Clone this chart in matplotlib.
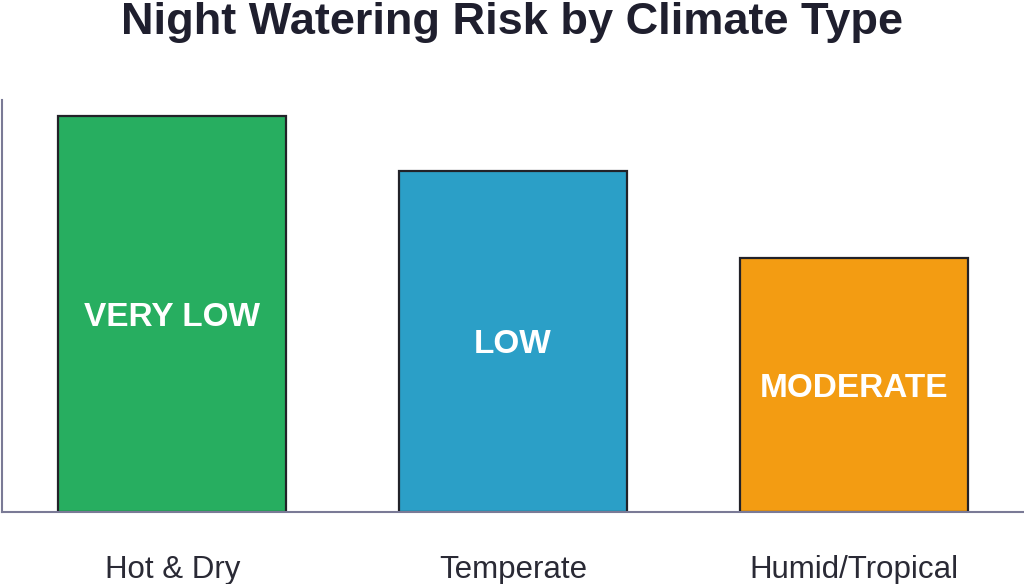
import matplotlib.pyplot as plt

climates = ['Hot & Dry', 'Temperate', 'Humid/Tropical']
risk_bar = [100, 86, 64]
risk_labels = ['VERY LOW', 'LOW', 'MODERATE']
colors = ['#27ae60', '#2b9fc7', '#f39c12']

plt.rcParams['font.family'] = ['Liberation Sans', 'DejaVu Sans']

fig = plt.figure(figsize=(10.24, 5.84), dpi=100)
ax = fig.add_axes([2 / 1024, 72 / 584, 1 - 2 / 1024, 412 / 584])

x = range(len(climates))
bars = ax.bar(x, risk_bar, width=0.67, color=colors, edgecolor='#222228', linewidth=1.6)

# labels sit halfway up each bar
for xi, v, lab in zip(x, risk_bar, risk_labels):
    ax.text(xi, v / 2 - 0.8, lab, ha='center', va='center', color='white',
            fontsize=24, fontweight='bold')

ax.set_xlim(-0.5, 2.5)
ax.set_ylim(0, 104)
ax.set_xticks(list(x))
ax.set_xticklabels(climates, fontsize=22.5, color='#2a2a35')
ax.set_yticks([])
ax.tick_params(axis='x', length=0, pad=31)

for s in ['top', 'right']:
    ax.spines[s].set_visible(False)
for s in ['left', 'bottom']:
    ax.spines[s].set_color('#7a7a96')
    ax.spines[s].set_linewidth(1.5)

fig.text(0.5, 0.962, 'Night Watering Risk by Climate Type', ha='center', va='center',
         fontsize=32.5, fontweight='bold', color='#1f1f2e')

fig.savefig('out.png', dpi=100)
